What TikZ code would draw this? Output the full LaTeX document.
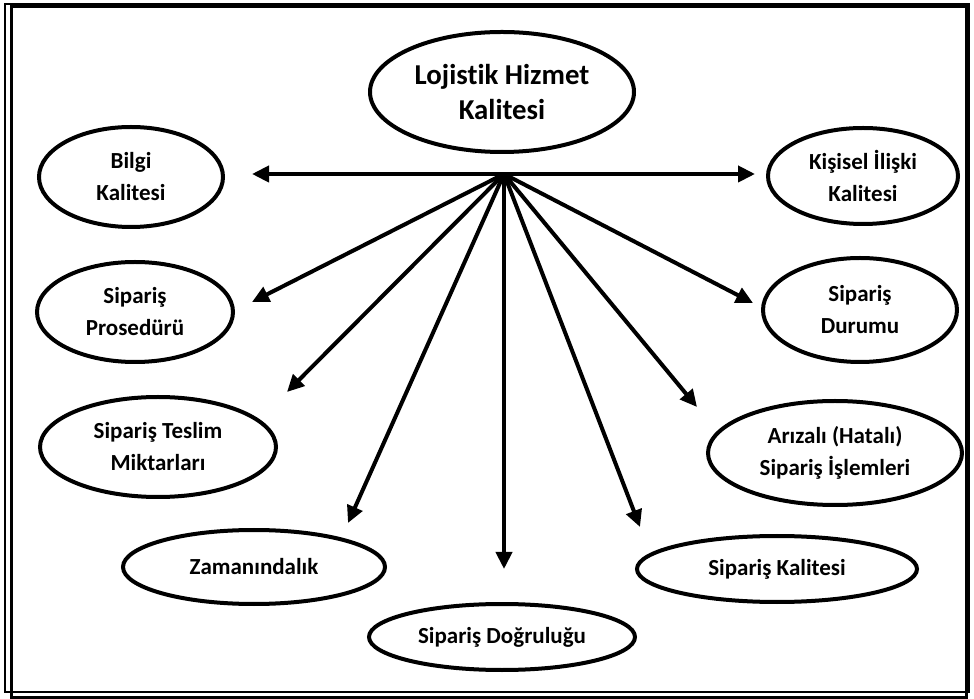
\documentclass[tikz,border=0pt]{standalone}
\usepackage{fontspec}
\setmainfont{Carlito}[Ligatures=NoCommon]
\newcommand\pxu{0.5pt}
\usetikzlibrary{shapes.geometric, arrows.meta}
\tikzstyle{topic} = [ellipse, draw=black, line width=2pt, inner sep=0pt, align=center, font=\bfseries\fontsize{11.5}{16}\selectfont]
\tikzstyle{arrow} = [line width=2pt,->,>={Triangle[length=8.5pt,width=8pt]}]

\begin{document}
\begin{tikzpicture}[x=\pxu, y=-\pxu]
\useasboundingbox (0,0) rectangle (974,699);
% frame
\draw [line width=1pt] (5,4) rectangle (969,692);
\draw [line width=1.5pt] (11,7) rectangle (966,697);

\node (lhk) [topic, minimum width=132pt, minimum height=60pt, font=\bfseries\fontsize{14.4}{17.5}\selectfont] at (502,92) {Lojistik Hizmet\\Kalitesi};
\node (bilgi) [topic, minimum width=92pt, minimum height=50pt] at (131,177) {Bilgi\\Kalitesi};
\node (kisisel) [topic, minimum width=95pt, minimum height=48pt] at (863,176) {Kişisel İlişki\\Kalitesi};
\node (prosedur) [topic, minimum width=98pt, minimum height=50pt] at (135,312) {Sipariş\\Prosedürü};
\node (durum) [topic, minimum width=97pt, minimum height=52pt] at (860,310) {Sipariş\\Durumu};
\node (teslim) [topic, minimum width=118pt, minimum height=50pt] at (158,447) {Sipariş Teslim\\Miktarları};
\node (arizali) [topic, minimum width=127pt, minimum height=52pt] at (835,453) {Arızalı (Hatalı)\\Sipariş İşlemleri};
\node (zaman) [topic, minimum width=131pt, minimum height=37pt] at (254,567) {Zamanındalık};
\node (dogru) [topic, minimum width=133pt, minimum height=33pt] at (502,637) {Sipariş Doğruluğu};
\node (kalite) [topic, minimum width=140pt, minimum height=33pt] at (777,569) {Sipariş Kalitesi};

% arrow ends
\coordinate (hub) at (504,174);
\coordinate (to-bilgi) at (252,174);
\coordinate (to-kisisel) at (755,174);
\coordinate (to-prosedur) at (252,302);
\coordinate (to-durum) at (753,303);
\coordinate (to-teslim) at (287,392);
\coordinate (to-arizali) at (697,407);
\coordinate (to-zaman) at (348,523);
\coordinate (to-dogru) at (504,569);
\coordinate (to-kalite) at (640,527);

\draw [arrow] (hub) -- (to-bilgi);
\draw [arrow] (hub) -- (to-kisisel);
\draw [arrow] (hub) -- (to-prosedur);
\draw [arrow] (hub) -- (to-durum);
\draw [arrow] (hub) -- (to-teslim);
\draw [arrow] (hub) -- (to-arizali);
\draw [arrow] (hub) -- (to-zaman);
\draw [arrow] (hub) -- (to-dogru);
\draw [arrow] (hub) -- (to-kalite);
\end{tikzpicture}
\end{document}
